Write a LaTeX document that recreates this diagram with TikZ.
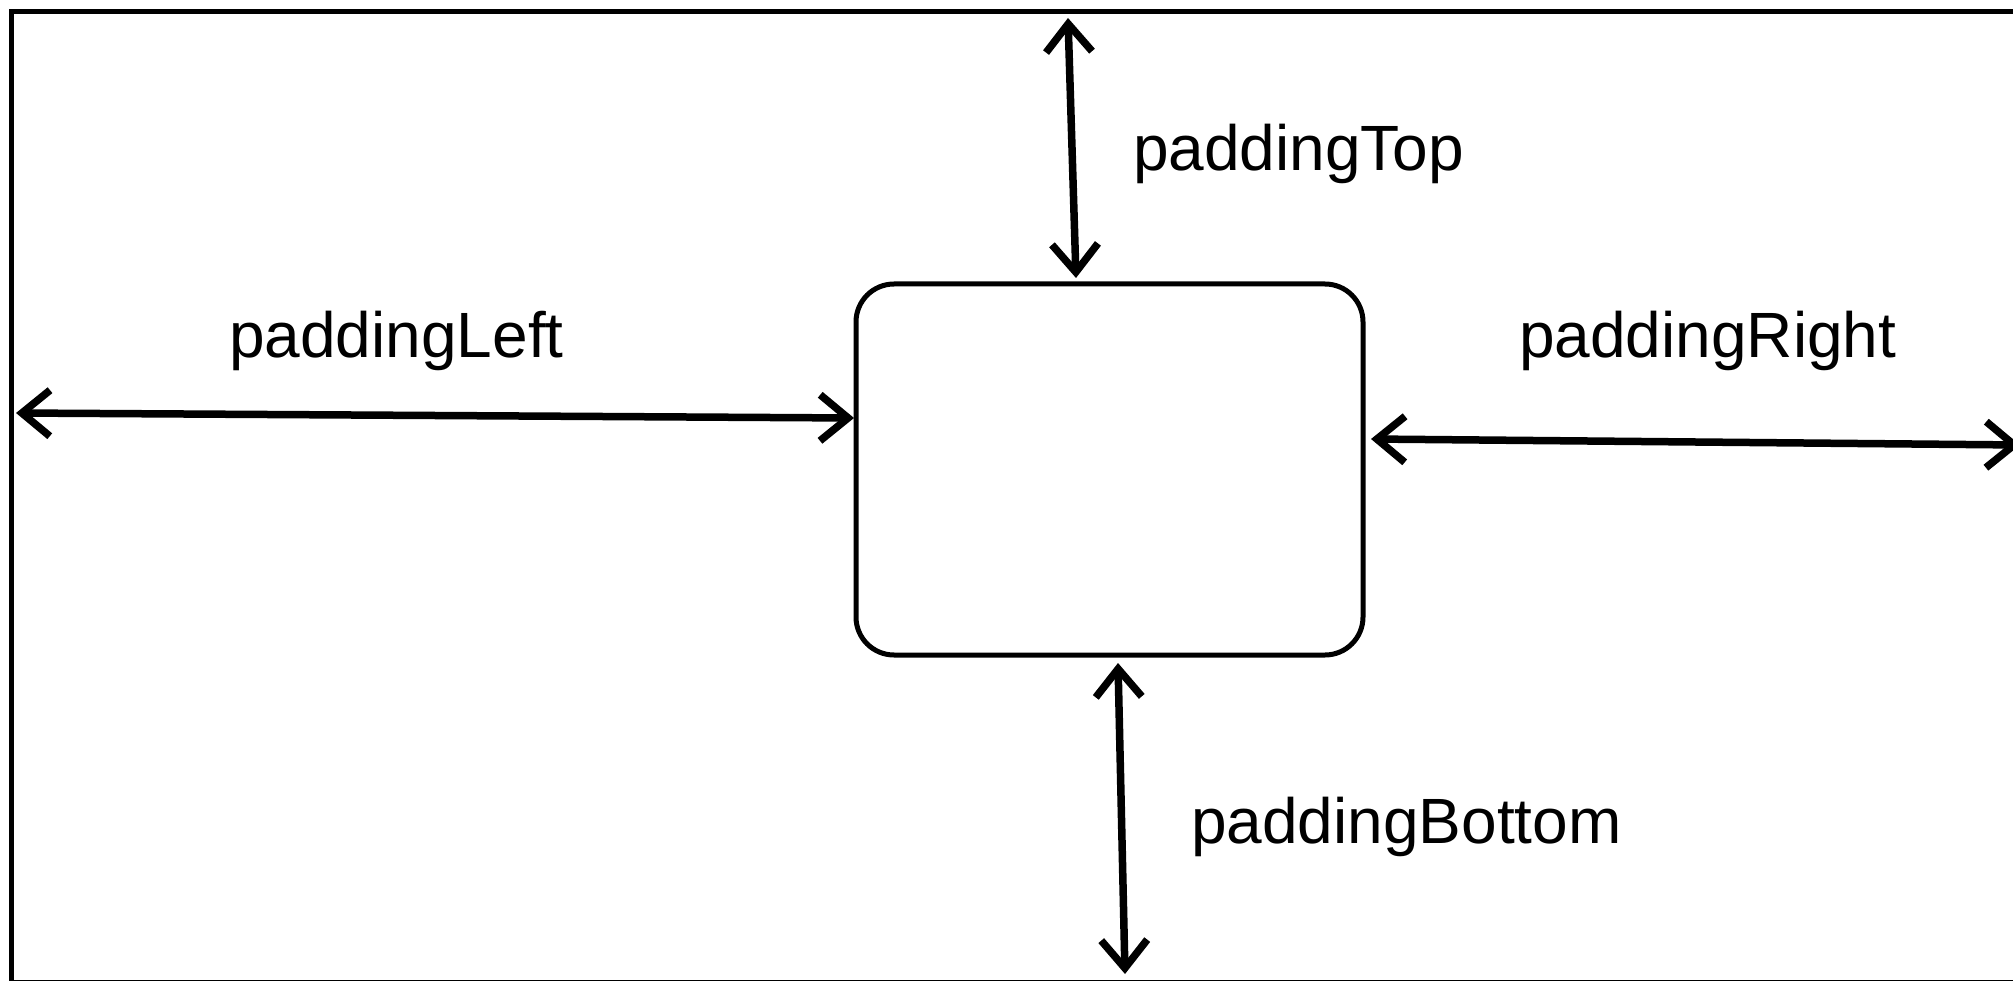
\documentclass[tikz,border=0pt]{standalone}
\usepackage{fontspec}
\setmainfont{Liberation Sans}
\usetikzlibrary{arrows.meta}
\begin{document}
\begin{tikzpicture}[x=1pt,y=-1pt,
  frame/.style={draw=black,line width=5.5pt},
  content/.style={draw=black,line width=5pt,rounded corners=38pt,
    minimum width=507pt,minimum height=371pt,inner sep=0pt,outer sep=0pt},
  gap/.style={line width=7.5pt,draw=black,
    {Straight Barb[length=28pt,width=46pt]}-{Straight Barb[length=28pt,width=46pt]}},
  label/.style={anchor=base west,inner sep=0pt,font=\fontsize{64}{72}\selectfont}]
  \useasboundingbox (0,0) rectangle (2013,981);
  \clip (0,0) rectangle (2013,981);
  % outer container
  \draw[frame] (11.5,11.5) rectangle (2040,983);
  % padded element
  \node[content] (box) at (1109.5,469.5) {};
  % arrow end points
  \coordinate (lA) at (16,413);
  \coordinate (lB) at (854,418);
  \coordinate (rA) at (1371,439);
  \coordinate (rB) at (2020,445);
  \coordinate (tA) at (1068,18);
  \coordinate (tB) at (1076,278);
  \coordinate (bA) at (1118,663);
  \coordinate (bB) at (1125,974);
  \draw[gap] (lA) -- (lB);
  \draw[gap] (rA) -- (rB);
  \draw[gap] (tA) -- (tB);
  \draw[gap] (bA) -- (bB);
  % labels
  \node[label] (lt) at (1133,171) {paddingTop};
  \node[label] (ll) at (229,358) {paddingLeft};
  \node[label] (lr) at (1519,358) {paddingRight};
  \node[label] (lb) at (1191,843) {paddingBottom};
\end{tikzpicture}
\end{document}
